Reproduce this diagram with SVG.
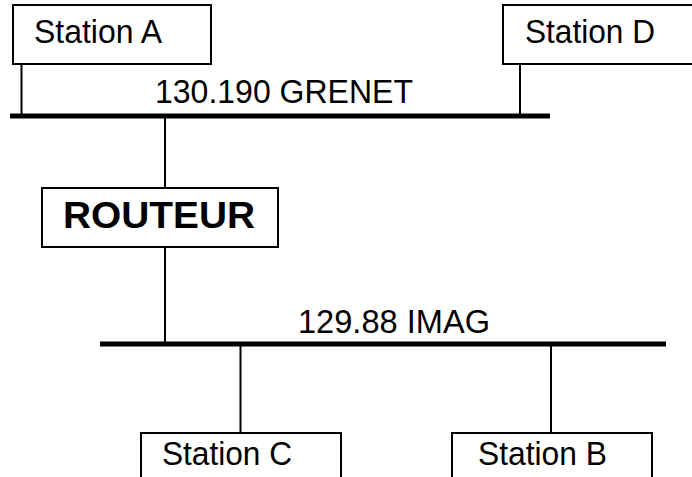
<svg xmlns="http://www.w3.org/2000/svg" width="692" height="477" viewBox="0 0 692 477">
<style>
.box{fill:#fff;stroke:#000;stroke-width:2}
.lbl{font-family:"Liberation Sans",Arial,sans-serif;font-size:33px;fill:#000}
.bold{font-weight:bold;font-size:37px}
.wire{stroke:#000;stroke-width:2;fill:none}
.bus{stroke:#000;stroke-width:5;fill:none}
</style>
<rect width="692" height="477" fill="#fff"/>
<g id="connectors">
<line class="bus" x1="10" y1="116" x2="550" y2="116"/>
<line class="bus" x1="100" y1="344" x2="666" y2="344"/>
<line class="wire" x1="21.5" y1="64" x2="21.5" y2="116"/>
<line class="wire" x1="520" y1="64" x2="520" y2="116"/>
<line class="wire" x1="165" y1="116" x2="165" y2="188"/>
<line class="wire" x1="165" y1="247" x2="165" y2="344"/>
<line class="wire" x1="240.5" y1="344" x2="240.5" y2="433"/>
<line class="wire" x1="551" y1="344" x2="551" y2="433"/>
</g>
<g id="net-grenet"><text class="lbl" x="155" y="103" textLength="258" lengthAdjust="spacingAndGlyphs">130.190 GRENET</text></g>
<g id="net-imag"><text class="lbl" x="298" y="333" textLength="192" lengthAdjust="spacingAndGlyphs">129.88 IMAG</text></g>
<g id="station-a">
<rect class="box" x="13" y="5" width="198" height="59"/>
<text class="lbl" x="34" y="43" textLength="128" lengthAdjust="spacingAndGlyphs">Station A</text>
</g>
<g id="station-d">
<rect class="box" x="503" y="5" width="200" height="59"/>
<text class="lbl" x="525" y="43" textLength="130" lengthAdjust="spacingAndGlyphs">Station D</text>
</g>
<g id="routeur">
<rect class="box" x="42" y="188" width="236" height="59"/>
<text class="lbl bold" x="63" y="228" textLength="192" lengthAdjust="spacingAndGlyphs">ROUTEUR</text>
</g>
<g id="station-c">
<rect class="box" x="141" y="433" width="200" height="60"/>
<text class="lbl" x="162" y="465" textLength="130" lengthAdjust="spacingAndGlyphs">Station C</text>
</g>
<g id="station-b">
<rect class="box" x="452" y="433" width="200" height="60"/>
<text class="lbl" x="478" y="465" textLength="129" lengthAdjust="spacingAndGlyphs">Station B</text>
</g>
</svg>
